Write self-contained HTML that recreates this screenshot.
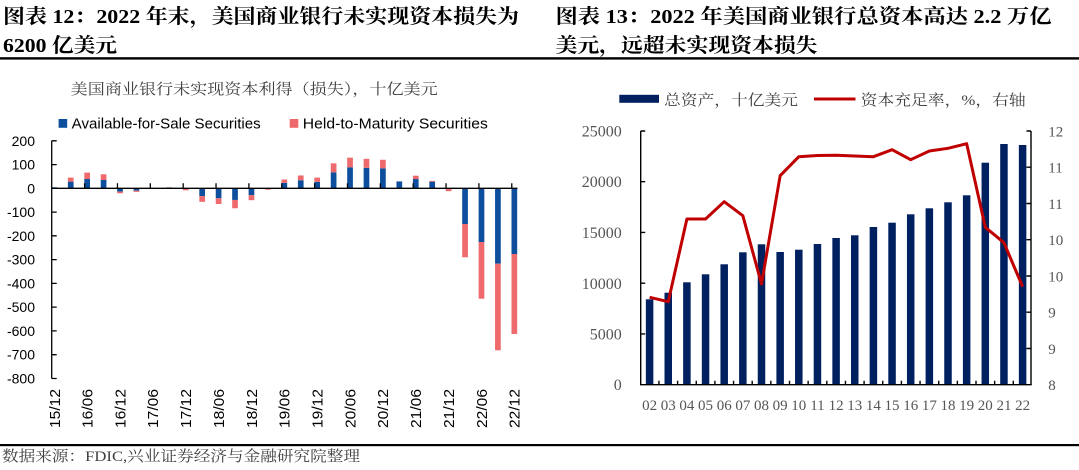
<!DOCTYPE html>
<html><head><meta charset="utf-8"><style>
html,body{margin:0;padding:0;background:#fff;}
svg{display:block;}
.t{font-family:"Liberation Serif","Noto Serif CJK SC",serif;font-weight:bold;font-size:20px;fill:#000;}
.cj{font-family:"Liberation Serif","Noto Serif CJK SC",serif;font-size:15px;fill:#404040;}
.sn{font-family:"Liberation Sans",sans-serif;font-size:14px;fill:#000;}
.sr{font-family:"Liberation Serif",serif;fill:#555;}
</style></head><body>
<svg width="1079" height="470" viewBox="0 0 1079 470" xmlns="http://www.w3.org/2000/svg">
<!-- Titles -->
<text class="t" x="3" y="23" textLength="516" lengthAdjust="spacingAndGlyphs">图表 12：2022 年末，美国商业银行未实现资本损失为</text>
<text class="t" x="3" y="52" textLength="114" lengthAdjust="spacingAndGlyphs">6200 亿美元</text>
<text class="t" x="555.5" y="23" textLength="496" lengthAdjust="spacingAndGlyphs">图表 13：2022 年美国商业银行总资本高达 2.2 万亿</text>
<text class="t" x="555.5" y="52" textLength="262" lengthAdjust="spacingAndGlyphs">美元，远超未实现资本损失</text>
<rect x="0" y="57.2" width="1079" height="2.4" fill="#000"/>

<!-- LEFT CHART -->
<text class="cj" x="70.7" y="94" textLength="367" lengthAdjust="spacingAndGlyphs">美国商业银行未实现资本利得（损失），十亿美元</text>
<rect x="58.6" y="119" width="8.6" height="8.8" fill="#0d4f9c"/>
<text x="71.7" y="128.5" font-family="Liberation Sans, sans-serif" font-size="15" fill="#000" textLength="189" lengthAdjust="spacingAndGlyphs">Available-for-Sale Securities</text>
<rect x="289.7" y="119" width="8.6" height="8.8" fill="#ee6a6c"/>
<text x="302.8" y="128.5" font-family="Liberation Sans, sans-serif" font-size="15" fill="#000" textLength="185" lengthAdjust="spacingAndGlyphs">Held-to-Maturity Securities</text>

<g class="sn" text-anchor="end">
<text x="35" y="146">200</text>
<text x="35" y="169.6">100</text>
<text x="35" y="193.3">0</text>
<text x="35" y="217.1">-100</text>
<text x="35" y="240.9">-200</text>
<text x="35" y="264.6">-300</text>
<text x="35" y="288.4">-400</text>
<text x="35" y="312.2">-500</text>
<text x="35" y="336">-600</text>
<text x="35" y="359.7">-700</text>
<text x="35" y="383.5">-800</text>
</g>

<g fill="#0d4f9c">
<rect x="51.45" y="187.3" width="5.7" height="1"/>
<rect x="67.88" y="181.64" width="5.7" height="6.66"/>
<rect x="84.31" y="179.03" width="5.7" height="9.27"/>
<rect x="100.74" y="179.98" width="5.7" height="8.32"/>
<rect x="117.17" y="188.3" width="5.7" height="3.33"/>
<rect x="133.6" y="188.3" width="5.7" height="2.38"/>
<rect x="166.46" y="187.3" width="5.7" height="1" fill="#888"/>
<rect x="182.89" y="188.3" width="5.7" height="0.6"/>
<rect x="199.32" y="188.3" width="5.7" height="7.84"/>
<rect x="215.75" y="188.3" width="5.7" height="9.98"/>
<rect x="232.18" y="188.3" width="5.7" height="11.65"/>
<rect x="248.61" y="188.3" width="5.7" height="6.89"/>
<rect x="281.47" y="182.83" width="5.7" height="5.47"/>
<rect x="297.9" y="180.22" width="5.7" height="8.08"/>
<rect x="314.33" y="181.88" width="5.7" height="6.42"/>
<rect x="330.76" y="172.37" width="5.7" height="15.93"/>
<rect x="347.19" y="167.38" width="5.7" height="20.92"/>
<rect x="363.62" y="167.86" width="5.7" height="20.44"/>
<rect x="380.05" y="168.33" width="5.7" height="19.97"/>
<rect x="396.48" y="181.41" width="5.7" height="6.89"/>
<rect x="412.91" y="179.03" width="5.7" height="9.27"/>
<rect x="429.34" y="181.64" width="5.7" height="6.66"/>
<rect x="445.77" y="188.3" width="5.7" height="0.5"/>
<rect x="462.2" y="188.3" width="5.7" height="35.7"/>
<rect x="478.63" y="188.3" width="5.7" height="53.7"/>
<rect x="495.06" y="188.3" width="5.7" height="75.4"/>
<rect x="511.49" y="188.3" width="5.7" height="65.7"/>
</g>
<g fill="#ee6a6c">
<rect x="67.88" y="177.6" width="5.7" height="4.04"/>
<rect x="84.31" y="172.61" width="5.7" height="6.42"/>
<rect x="100.74" y="174.28" width="5.7" height="5.7"/>
<rect x="117.17" y="191.63" width="5.7" height="1.66"/>
<rect x="133.6" y="190.68" width="5.7" height="1.2"/>
<rect x="182.89" y="188.9" width="5.7" height="1.4"/>
<rect x="199.32" y="196.14" width="5.7" height="5.7"/>
<rect x="215.75" y="198.28" width="5.7" height="5.7"/>
<rect x="232.18" y="199.95" width="5.7" height="8.32"/>
<rect x="248.61" y="195.19" width="5.7" height="4.99"/>
<rect x="265.04" y="188.5" width="5.7" height="1.2"/>
<rect x="281.47" y="179.5" width="5.7" height="3.33"/>
<rect x="297.9" y="175.47" width="5.7" height="4.75"/>
<rect x="314.33" y="177.6" width="5.7" height="4.28"/>
<rect x="330.76" y="163.34" width="5.7" height="9.03"/>
<rect x="347.19" y="157.63" width="5.7" height="9.75"/>
<rect x="363.62" y="158.83" width="5.7" height="9.03"/>
<rect x="380.05" y="159.77" width="5.7" height="8.56"/>
<rect x="412.91" y="175.7" width="5.7" height="3.33"/>
<rect x="429.34" y="180.9" width="5.7" height="0.8"/>
<rect x="445.77" y="188.8" width="5.7" height="2.4"/>
<rect x="462.2" y="224" width="5.7" height="33.3"/>
<rect x="478.63" y="242" width="5.7" height="56.7"/>
<rect x="495.06" y="263.7" width="5.7" height="86.6"/>
<rect x="511.49" y="254" width="5.7" height="80"/>
</g>

<!-- left axes -->
<g stroke="#000" stroke-width="1.3" fill="none">
<line x1="51.7" y1="140.8" x2="51.7" y2="378.5"/>
<line x1="51.7" y1="188.3" x2="517.5" y2="188.3"/>
<path d="M51.7 140.8h5M51.7 164.6h5M51.7 212.1h5M51.7 235.8h5M51.7 259.6h5M51.7 283.4h5M51.7 307.1h5M51.7 330.9h5M51.7 354.7h5M51.7 378.5h5"/>
<path d="M84.6 188.3v-5M117.46 188.3v-5M150.32 188.3v-5M183.18 188.3v-5M216.04 188.3v-5M248.9 188.3v-5M281.76 188.3v-5M314.62 188.3v-5M347.48 188.3v-5M380.34 188.3v-5M413.2 188.3v-5M446.06 188.3v-5M478.92 188.3v-5M511.78 188.3v-5"/>
</g>

<g font-family="Liberation Sans, sans-serif" font-size="15" fill="#000" text-anchor="end">
<text transform="translate(59.8,389) rotate(-90)" textLength="39" lengthAdjust="spacingAndGlyphs">15/12</text>
<text transform="translate(92.5,389) rotate(-90)" textLength="39" lengthAdjust="spacingAndGlyphs">16/06</text>
<text transform="translate(125.3,389) rotate(-90)" textLength="39" lengthAdjust="spacingAndGlyphs">16/12</text>
<text transform="translate(158.2,389) rotate(-90)" textLength="39" lengthAdjust="spacingAndGlyphs">17/06</text>
<text transform="translate(191,389) rotate(-90)" textLength="39" lengthAdjust="spacingAndGlyphs">17/12</text>
<text transform="translate(223.9,389) rotate(-90)" textLength="39" lengthAdjust="spacingAndGlyphs">18/06</text>
<text transform="translate(256.8,389) rotate(-90)" textLength="39" lengthAdjust="spacingAndGlyphs">18/12</text>
<text transform="translate(289.6,389) rotate(-90)" textLength="39" lengthAdjust="spacingAndGlyphs">19/06</text>
<text transform="translate(322.5,389) rotate(-90)" textLength="39" lengthAdjust="spacingAndGlyphs">19/12</text>
<text transform="translate(355.3,389) rotate(-90)" textLength="39" lengthAdjust="spacingAndGlyphs">20/06</text>
<text transform="translate(388.2,389) rotate(-90)" textLength="39" lengthAdjust="spacingAndGlyphs">20/12</text>
<text transform="translate(421.1,389) rotate(-90)" textLength="39" lengthAdjust="spacingAndGlyphs">21/06</text>
<text transform="translate(453.9,389) rotate(-90)" textLength="39" lengthAdjust="spacingAndGlyphs">21/12</text>
<text transform="translate(486.8,389) rotate(-90)" textLength="39" lengthAdjust="spacingAndGlyphs">22/06</text>
<text transform="translate(519.6,389) rotate(-90)" textLength="39" lengthAdjust="spacingAndGlyphs">22/12</text>
</g>

<!-- RIGHT CHART -->
<rect x="619.3" y="94.8" width="39.7" height="8" fill="#002060"/>
<text class="cj" x="664" y="105" textLength="134" lengthAdjust="spacingAndGlyphs">总资产，十亿美元</text>
<line x1="814" y1="99" x2="855.5" y2="99" stroke="#c00000" stroke-width="3"/>
<text class="cj" x="860.7" y="105" textLength="165" lengthAdjust="spacingAndGlyphs">资本充足率，%，右轴</text>

<g class="sr" font-size="16" text-anchor="end">
<text x="621.7" y="136.5">25000</text>
<text x="621.7" y="187.2">20000</text>
<text x="621.7" y="237.8">15000</text>
<text x="621.7" y="288.8">10000</text>
<text x="621.7" y="339.5">5000</text>
<text x="621.7" y="390.2">0</text>
</g>
<g class="sr" font-size="15">
<text x="1048.3" y="136.3">12</text>
<text x="1048.3" y="172.6">11</text>
<text x="1048.3" y="208.8">11</text>
<text x="1048.3" y="245.1">10</text>
<text x="1048.3" y="281.3">10</text>
<text x="1048.3" y="317.6">9</text>
<text x="1048.3" y="353.8">9</text>
<text x="1048.3" y="390">8</text>
</g>

<g fill="#002060">
<rect x="645.85" y="299.3" width="7.5" height="85.4"/>
<rect x="664.5" y="292.7" width="7.5" height="92"/>
<rect x="683.15" y="282.3" width="7.5" height="102.4"/>
<rect x="701.8" y="274.3" width="7.5" height="110.4"/>
<rect x="720.45" y="264.3" width="7.5" height="120.4"/>
<rect x="739.1" y="252.3" width="7.5" height="132.4"/>
<rect x="757.75" y="244.3" width="7.5" height="140.4"/>
<rect x="776.4" y="252" width="7.5" height="132.7"/>
<rect x="795.05" y="249.7" width="7.5" height="135"/>
<rect x="813.7" y="244" width="7.5" height="140.7"/>
<rect x="832.35" y="238" width="7.5" height="146.7"/>
<rect x="851" y="235.3" width="7.5" height="149.4"/>
<rect x="869.65" y="227" width="7.5" height="157.7"/>
<rect x="888.3" y="222.7" width="7.5" height="162"/>
<rect x="906.95" y="214.3" width="7.5" height="170.4"/>
<rect x="925.6" y="208.3" width="7.5" height="176.4"/>
<rect x="944.25" y="202.3" width="7.5" height="182.4"/>
<rect x="962.9" y="195.3" width="7.5" height="189.4"/>
<rect x="981.55" y="162.7" width="7.5" height="222"/>
<rect x="1000.2" y="144" width="7.5" height="240.7"/>
<rect x="1018.85" y="145" width="7.5" height="239.7"/>
</g>

<g stroke="#000" stroke-width="1.4" fill="none">
<line x1="640.7" y1="131" x2="640.7" y2="384.7"/>
<line x1="1031" y1="131" x2="1031" y2="384.7"/>
<line x1="640" y1="384.7" x2="1031.7" y2="384.7"/>
<path d="M640.7 131h4.5M640.7 181.7h4.5M640.7 232.4h4.5M640.7 283.2h4.5M640.7 333.9h4.5"/>
<path d="M1031 131h-4.5M1031 167.2h-4.5M1031 203.5h-4.5M1031 239.7h-4.5M1031 276h-4.5M1031 312.2h-4.5M1031 348.5h-4.5"/>
<path d="M658.95 384.7v-4M677.6 384.7v-4M696.25 384.7v-4M714.9 384.7v-4M733.55 384.7v-4M752.2 384.7v-4M770.85 384.7v-4M789.5 384.7v-4M808.15 384.7v-4M826.8 384.7v-4M845.45 384.7v-4M864.1 384.7v-4M882.75 384.7v-4M901.4 384.7v-4M920.05 384.7v-4M938.7 384.7v-4M957.35 384.7v-4M976 384.7v-4M994.65 384.7v-4M1013.3 384.7v-4"/>
</g>

<polyline fill="none" stroke="#c00000" stroke-width="3" stroke-linejoin="round" points="649.6,297.3 668.25,301.7 686.9,219 705.55,219 724.2,201.7 742.85,215.7 761.5,284 780.15,175.7 798.8,156.7 817.45,155.5 836.1,155.3 854.75,156 873.4,156.7 892.05,149.7 910.7,159.7 929.35,151 948,148.3 966.65,143.7 985.3,227.3 1003.95,242.7 1022.6,286.7"/>

<g class="sr" font-size="15" text-anchor="middle">
<text x="649.6" y="410">02</text>
<text x="668.25" y="410">03</text>
<text x="686.9" y="410">04</text>
<text x="705.55" y="410">05</text>
<text x="724.2" y="410">06</text>
<text x="742.85" y="410">07</text>
<text x="761.5" y="410">08</text>
<text x="780.15" y="410">09</text>
<text x="798.8" y="410">10</text>
<text x="817.45" y="410">11</text>
<text x="836.1" y="410">12</text>
<text x="854.75" y="410">13</text>
<text x="873.4" y="410">14</text>
<text x="892.05" y="410">15</text>
<text x="910.7" y="410">16</text>
<text x="929.35" y="410">17</text>
<text x="948" y="410">18</text>
<text x="966.65" y="410">19</text>
<text x="985.3" y="410">20</text>
<text x="1003.95" y="410">21</text>
<text x="1022.6" y="410">22</text>
</g>

<!-- Source -->
<rect x="0" y="444" width="1079" height="2.2" fill="#000"/>
<text class="cj" x="2" y="461" fill="#222" textLength="358" lengthAdjust="spacingAndGlyphs">数据来源：FDIC,兴业证券经济与金融研究院整理</text>
</svg>
</body></html>
